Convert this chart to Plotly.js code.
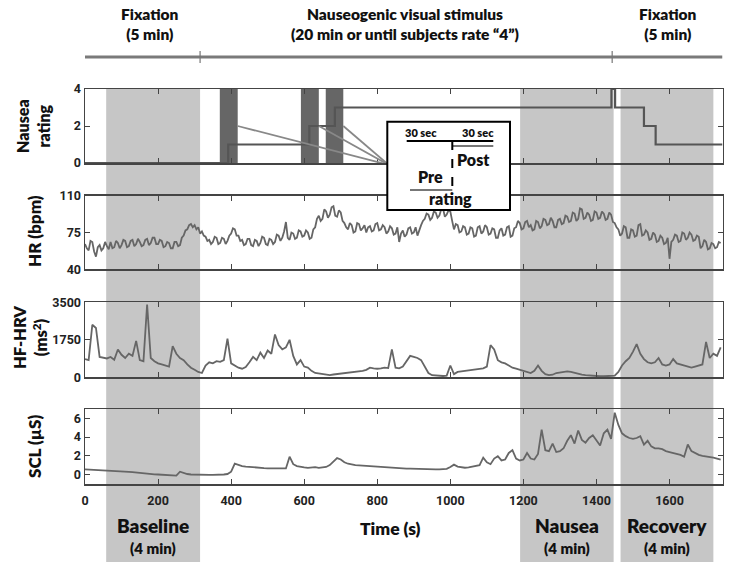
<!DOCTYPE html>
<html>
<head>
<meta charset="utf-8">
<script src="https://cdn.plot.ly/plotly-3.0.1.min.js"></script>
<style>
  html, body { margin: 0; padding: 0; background: #fff; }
  #chart { width: 750px; height: 563px; }
</style>
</head>
<body>
<div id="chart"></div>
<script>
// heart rate (bpm), one value per 5 s
const hrStep = 5;
const hr = [
  64, 60, 58, 67, 66, 57, 52, 61, 63, 58, 60, 66, 62, 59, 66, 60, 61, 67, 65, 60,
  63, 68, 67, 61, 62, 67, 68, 62, 64, 69, 66, 62, 63, 68, 69, 63, 65, 70, 70, 64,
  64, 68, 67, 61, 62, 66, 65, 60, 60, 66, 66, 62, 63, 70, 72, 77, 78, 82, 83, 80,
  82, 78, 80, 74, 76, 72, 71, 67, 68, 64, 66, 71, 70, 64, 65, 70, 69, 64, 67, 72,
  74, 79, 78, 72, 72, 67, 68, 63, 64, 69, 69, 63, 62, 68, 67, 62, 65, 71, 70, 64,
  63, 69, 68, 64, 66, 73, 72, 67, 70, 76, 85, 70, 68, 75, 74, 69, 70, 77, 76, 71,
  72, 77, 75, 69, 70, 78, 80, 88, 91, 86, 88, 97, 95, 89, 92, 99, 100, 91, 90, 96,
  94, 86, 84, 80, 78, 84, 82, 75, 76, 84, 83, 77, 79, 82, 75, 80, 81, 76, 77, 83,
  84, 77, 78, 82, 80, 74, 76, 81, 79, 73, 74, 80, 66, 74, 77, 71, 73, 79, 80, 74,
  75, 80, 72, 78, 82, 86, 88, 93, 92, 87, 89, 95, 94, 89, 91, 97, 98, 90, 92, 96,
  95, 86, 78, 83, 82, 75, 76, 81, 80, 73, 74, 80, 79, 71, 72, 80, 81, 74, 76, 82,
  80, 73, 74, 79, 78, 70, 70, 77, 79, 72, 73, 80, 81, 71, 72, 79, 80, 86, 84, 78,
  79, 85, 86, 80, 82, 77, 78, 86, 85, 79, 81, 88, 87, 82, 83, 89, 86, 80, 80, 87,
  88, 83, 84, 91, 90, 85, 86, 94, 93, 86, 88, 98, 97, 88, 89, 94, 92, 86, 87, 95,
  94, 88, 89, 95, 93, 87, 88, 94, 92, 85, 84, 80, 78, 72, 74, 81, 80, 70, 70, 78,
  77, 71, 72, 82, 83, 72, 73, 77, 75, 68, 69, 75, 73, 66, 67, 72, 70, 64, 65, 70,
  50, 66, 68, 73, 72, 66, 67, 75, 74, 68, 70, 75, 73, 67, 68, 72, 71, 60, 62, 68,
  66, 59, 60, 65, 64, 60, 61, 66, 65
];
const hrTime = hr.map((_, i) => i * hrStep);

// high-frequency HRV (ms^2), one value per 10 s
const step = 10;
const hfhrv = [
  850, 800, 2450, 2300, 950, 900, 880, 950, 820, 1300,
  1050, 900, 1100, 1000, 1700, 800, 750, 3400, 900, 750,
  650, 600, 550, 500, 1450, 1100, 900, 800, 600, 450,
  350, 250, 200, 550, 700, 650, 750, 720, 800, 1800,
  650, 550, 450, 400, 480, 700, 950, 800, 1150, 900,
  1250, 1100, 2000, 1500, 1300, 1400, 1750, 1000, 600, 800,
  500, 450, 300, 200, 180, 150, 120, 100, 130, 150,
  160, 180, 200, 220, 250, 280, 300, 350, 450, 420,
  400, 420, 450, 430, 1300, 450, 420, 500, 750, 1000,
  950, 900, 800, 500, 200, 100, 80, 60, 60, 80,
  550, 150, 250, 280, 300, 320, 350, 380, 400, 420,
  500, 1500, 1300, 800, 700, 650, 550, 450, 400, 350,
  300, 250, 200, 300, 550, 300, 150, 100, 120, 200,
  220, 250, 280, 250, 200, 150, 120, 100, 80, 60,
  50, 50, 50, 60, 60, 80, 250, 550, 750, 900,
  1200, 1550, 1100, 850, 700, 650, 700, 900, 600, 550,
  600, 850, 650, 600, 550, 500, 450, 500, 550, 600,
  1650, 900, 1100, 1000, 1400
];

// skin conductance level (uS), one value per 10 s
const scl = [
  0.55, 0.52, 0.5, 0.5, 0.47, 0.45, 0.43, 0.4, 0.38, 0.35,
  0.32, 0.3, 0.27, 0.25, 0.2, 0.15, 0.12, 0.1, 0.05, 0.02,
  0.0, -0.02, -0.05, -0.08, -0.1, -0.12, 0.3, 0.15, 0.05, 0.0,
  -0.02, -0.05, -0.05, -0.05, -0.05, -0.05, -0.05, -0.03, 0.0, 0.05,
  0.3, 1.15, 1.0, 0.9, 0.85, 0.8, 0.75, 0.72, 0.7, 0.68,
  0.66, 0.65, 0.64, 0.63, 0.63, 0.65, 1.9, 1.1, 0.9, 0.8,
  0.75, 0.7, 0.72, 0.78, 0.7, 0.72, 0.8, 1.0, 1.4, 1.75,
  1.6, 1.3, 1.15, 1.05, 1.0, 0.98, 0.95, 0.9, 0.88, 0.85,
  0.8, 0.78, 0.75, 0.72, 0.7, 0.68, 0.66, 0.65, 0.63, 0.62,
  0.6, 0.58, 0.57, 0.56, 0.55, 0.55, 0.54, 0.55, 0.56, 0.6,
  0.8, 1.05, 0.85, 0.75, 0.72, 0.75, 0.85, 0.97, 1.0, 1.8,
  1.3, 1.1, 1.7, 1.95, 1.5, 1.6, 2.3, 2.6, 1.7, 1.5,
  1.6, 2.3, 1.7, 1.6, 2.2, 4.8, 2.6, 2.5, 3.3, 2.4,
  2.5, 2.8, 3.6, 4.2, 3.3, 4.7, 3.7, 3.4, 3.9, 4.2,
  3.6, 3.1, 4.4, 4.8, 3.8, 6.6, 5.3, 4.4, 4.1, 3.9,
  3.8, 3.9, 4.1, 3.2, 3.6, 3.0, 2.8, 2.8, 2.7, 2.5,
  2.4, 2.3, 2.2, 2.1, 1.9, 3.2, 2.5, 2.3, 2.1, 2.0,
  1.95, 1.9, 1.8, 1.7, 1.6
];
const time = scl.map((_, i) => i * step);

// nausea rating: time of each change and the new value
const ratingTime = [0, 392, 614, 684, 1441, 1451, 1530, 1562, 1745];
const ratingValue = [0, 1, 2, 3, 4, 3, 2, 1, 1];

// 60 s windows around each rating change (30 s pre / 30 s post)
const ratingWindows = [[369, 418], [591, 640], [659, 707]];

// analysis epochs (s)
const epochNames = ['Baseline', 'Nausea', 'Recovery'];
const epochs = [[58, 315], [1191, 1447], [1466, 1720]];

// protocol phases shown on the top timeline
const phaseNames = ['Fixation<br>(5 min)', 'Nauseogenic visual stimulus<br>(20 min or until subjects rate “4”)', 'Fixation<br>(5 min)'];
const phaseBounds = [315, 1443];

const W = 750, H = 563;
const px = x => x / W;
const py = y => 1 - y / H;

const sans = 'Lato, "Open Sans", sans-serif';
const labelFont = {family: sans, size: 15.5, color: '#111', weight: 800};
const tickFont = {family: 'Roboto, sans-serif', size: 12.5, color: '#222', weight: 'bold'};
const traceColor = '#666';
const frame = '#444';
const withSize = (size) => Object.assign({}, labelFont, {size});

const xDomain = [px(85), px(722.5)];
const xRange = [0, 1745];
function xaxis(anchor, labels) {
  return {
    domain: xDomain, range: xRange, anchor,
    tickvals: [0, 200, 400, 600, 800, 1000, 1200, 1400, 1600],
    ticks: 'inside', ticklen: 5, tickcolor: frame, tickwidth: 1,
    showline: true, linecolor: frame, linewidth: 1.5, mirror: 'ticks',
    showgrid: false, zeroline: false, showticklabels: labels,
    tickfont: tickFont, ticklabelstandoff: 4
  };
}
function yaxis(anchor, top, bottom, range, tickvals) {
  return {
    domain: [py(bottom), py(top)], range, anchor, tickvals,
    ticks: 'inside', ticklen: 5, tickcolor: frame, tickwidth: 1,
    showline: true, linecolor: frame, linewidth: 1.5, mirror: 'ticks',
    showgrid: false, zeroline: false, tickfont: tickFont
  };
}

const data = [
  {x: ratingTime, y: ratingValue, xaxis: 'x', yaxis: 'y', type: 'scatter', mode: 'lines',
   line: {color: '#555', width: 2.2, shape: 'hv'}, cliponaxis: false},
  {x: hrTime, y: hr, xaxis: 'x2', yaxis: 'y2', type: 'scatter', mode: 'lines',
   line: {color: traceColor, width: 1.8}},
  {x: time, y: hfhrv, xaxis: 'x3', yaxis: 'y3', type: 'scatter', mode: 'lines',
   line: {color: traceColor, width: 1.8}},
  {x: time, y: scl, xaxis: 'x4', yaxis: 'y4', type: 'scatter', mode: 'lines',
   line: {color: traceColor, width: 1.8}}
];

const shapes = [];
epochs.forEach(([a, b]) => shapes.push({
  type: 'rect', xref: 'x', yref: 'paper', x0: a, x1: b, y0: py(562), y1: py(89),
  fillcolor: '#c6c6c6', line: {width: 0}, layer: 'below'
}));
ratingWindows.forEach(([a, b]) => shapes.push({
  type: 'rect', xref: 'x', yref: 'y', x0: a, x1: b, y0: 0, y1: 4,
  fillcolor: '#666', line: {width: 0}, layer: 'below'
}));
// guide lines from each window to the inset
ratingWindows.forEach(([a, b]) => shapes.push({
  type: 'line', xref: 'x', yref: 'y', x0: b, y0: 2, x1: 831, y1: -0.1,
  line: {color: '#888', width: 1.8}
}));
// top timeline
shapes.push({type: 'line', xref: 'x', yref: 'paper', x0: 0, x1: 1745, y0: py(57), y1: py(57),
  line: {color: '#7a7a7a', width: 3}});
phaseBounds.forEach(t => shapes.push({
  type: 'line', xref: 'x', yref: 'paper', x0: t, x1: t, y0: py(51), y1: py(63),
  line: {color: '#777', width: 1.2}
}));
// inset schematic
shapes.push({type: 'rect', xref: 'paper', yref: 'paper', x0: px(387.3), x1: px(510), y0: py(210), y1: py(121.7),
  fillcolor: '#fff', line: {color: '#000', width: 2}, layer: 'above'});
shapes.push({type: 'line', xref: 'paper', yref: 'paper', x0: px(406.7), x1: px(493.3), y0: py(141), y1: py(141),
  line: {color: '#000', width: 2}, layer: 'above'});
shapes.push({type: 'line', xref: 'paper', yref: 'paper', x0: px(452.7), x1: px(493.3), y0: py(146), y1: py(146),
  line: {color: '#777', width: 2}, layer: 'above'});
shapes.push({type: 'line', xref: 'paper', yref: 'paper', x0: px(410), x1: px(452.3), y0: py(190), y1: py(190),
  line: {color: '#777', width: 2}, layer: 'above'});
shapes.push({type: 'line', xref: 'paper', yref: 'paper', x0: px(452.3), x1: px(452.3), y0: py(141), y1: py(190),
  line: {color: '#000', width: 2, dash: 'dash'}, layer: 'above'});

const ann = (text, x, y, font, extra = {}) => Object.assign({
  text, x: px(x), y: py(y), xref: 'paper', yref: 'paper', showarrow: false,
  xanchor: 'center', yanchor: 'middle', font
}, extra);

const annotations = [
  ann(phaseNames[0], 150, 24, labelFont),
  ann(phaseNames[1], 405, 24, labelFont),
  ann(phaseNames[2], 668, 24, labelFont),
  ann('Nausea<br>rating', 33, 126, withSize(16), {textangle: -90}),
  ann('HR (bpm)', 34, 231, withSize(17), {textangle: -90}),
  ann('HF-HRV<br>(ms<sup>2</sup>)', 30, 338, withSize(16.5), {textangle: -90}),
  ann('SCL (µS)', 34, 447, withSize(17), {textangle: -90}),
  ann('Time (s)', 390, 528, withSize(17.5)),
  ann('30 sec', 421, 132.5, withSize(11)),
  ann('30 sec', 477.5, 132.5, withSize(11)),
  ann('Post', 473, 159, withSize(16)),
  ann('Pre', 430, 177, withSize(16)),
  ann('rating', 450, 198, withSize(16))
];
epochNames.forEach((name, i) => {
  const [a, b] = epochs[i];
  const cx = 85 + (a + b) / 2 / 1745 * 637.5;
  annotations.push(ann(name, cx, 525, withSize(19)));
  annotations.push(ann('(4 min)', cx, 548, withSize(15)));
});

const layout = {
  width: W, height: H,
  margin: {l: 0, r: 0, t: 0, b: 0},
  showlegend: false,
  paper_bgcolor: '#fff',
  plot_bgcolor: 'rgba(0,0,0,0)',
  xaxis: xaxis('y', false),
  xaxis2: xaxis('y2', false),
  xaxis3: xaxis('y3', false),
  xaxis4: xaxis('y4', true),
  yaxis: yaxis('x', 89, 163, [0, 4], [0, 2, 4]),
  yaxis2: yaxis('x2', 195.7, 269.3, [40, 110], [40, 75, 110]),
  yaxis3: yaxis('x3', 302.3, 377.3, [0, 3500], [0, 1750, 3500]),
  yaxis4: yaxis('x4', 409, 484.3, [-1.05, 7.0], [0, 2, 4, 6]),
  shapes, annotations
};

Plotly.newPlot('chart', data, layout, {staticPlot: true});
</script>
</body>
</html>
